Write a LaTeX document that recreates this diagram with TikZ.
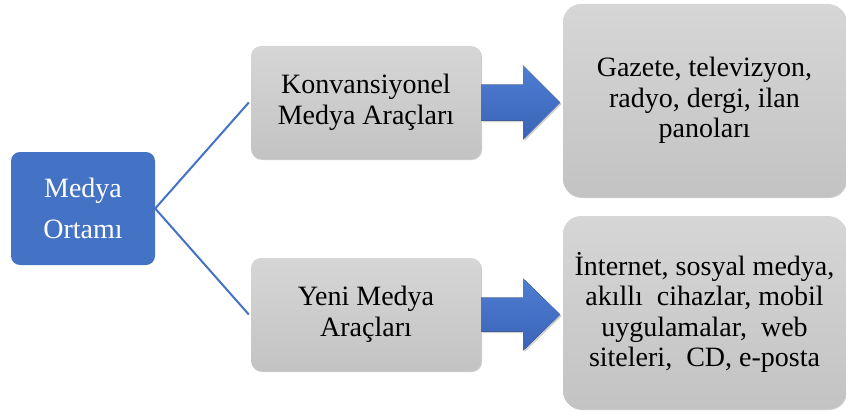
\documentclass[tikz,border=0pt]{standalone}
\usepackage{fontspec}
\setmainfont{Liberation Serif}
\usetikzlibrary{calc,shadows}
\definecolor{mblue}{HTML}{4472C4}
\definecolor{mbluel}{HTML}{4E7DD2}
\definecolor{mblued}{HTML}{3A64B8}
\definecolor{gtop}{HTML}{D6D6D6}
\definecolor{gbot}{HTML}{C3C3C3}
\tikzset{
  txt/.style={font=\fontsize{28}{30.5}\selectfont, align=center},
  bluebox/.style={txt, font=\fontsize{28}{41}\selectfont, rectangle, rounded corners=9pt, fill=mblue, text=white, minimum width=144pt, minimum height=113pt, inner sep=2pt},
  graybox/.style={txt, rectangle, rounded corners=10pt, top color=gtop, bottom color=gbot, text=black, inner sep=1pt,
     drop shadow={shadow xshift=1pt, shadow yshift=-1pt, opacity=0.2, fill=black}},
  midbox/.style={graybox, minimum width=230pt, minimum height=113pt},
  bigbox/.style={graybox, rounded corners=18pt, minimum width=283pt, minimum height=193pt},
  link/.style={draw=mblue, line width=2pt},
  bigarrow/.style={top color=mbluel, bottom color=mblued,
     drop shadow={shadow xshift=1.5pt, shadow yshift=-1.5pt, opacity=0.18, fill=black}}
}
\begin{document}
\begin{tikzpicture}[x=1pt,y=1pt]
\useasboundingbox (0,0) rectangle (846,-412);
\node[bluebox] (m) at (83,-208.5) {Medya\\Ortamı};
\node[midbox] (k) at (366,-102.5) {Konvansiyonel\\Medya Araçları};
\node[midbox] (y) at (366,-314.5) {Yeni Medya\\Araçları};
\node[bigbox] (g) at (704.5,-100.5) {Gazete, televizyon,\\radyo, dergi, ilan\\panoları};
\node[bigbox] (i) at (704.5,-312.5) {İnternet, sosyal medya,\\akıllı\ \ cihazlar, mobil\\uygulamalar,\ \ web\\siteleri,\ \ CD, e-posta};
\draw[link] (m.east) -- ([xshift=-2pt]k.west);
\draw[link] (m.east) -- ([xshift=-2pt]y.west);
\fill[bigarrow] ($(k.east)+(0,18)$) -- ++(42,0) -- ++(0,19) -- ++(37,-37) -- ++(-37,-37) -- ++(0,19) -- ++(-42,0) -- cycle;
\fill[bigarrow] ($(y.east)+(0,17)$) -- ++(42,0) -- ++(0,19) -- ++(37,-36) -- ++(-37,-36) -- ++(0,19) -- ++(-42,0) -- cycle;
\end{tikzpicture}
\end{document}
